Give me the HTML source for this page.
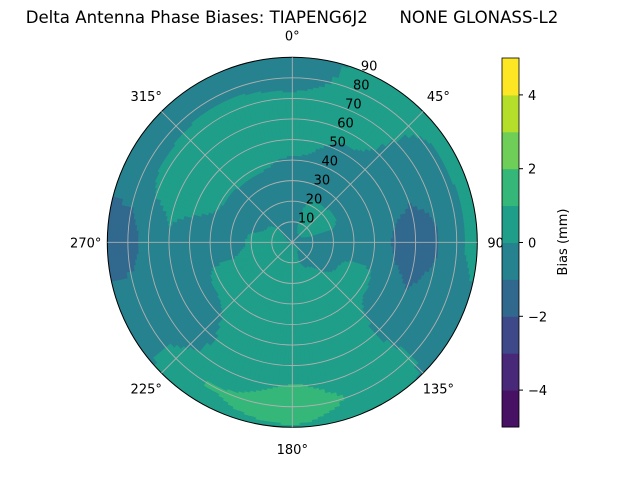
<!DOCTYPE html>
<html><head><meta charset="utf-8"><style>
body{margin:0;background:#fff;}
svg{display:block;font-family:"DejaVu Sans","Liberation Sans",sans-serif;}
</style></head><body>
<svg id="chart" width="640" height="480" viewBox="0 0 640 480">
<text x="292" y="23" font-size="16.6" text-anchor="middle" style="white-space:pre">Delta Antenna Phase Biases: TIAPENG6J2      NONE GLONASS-L2</text>
<g id="cells"></g>
<g id="grid"></g>
<g id="labels" font-size="13"></g>
<g id="cbar" font-size="13"></g>
</svg>
<script>
const azimuths=[0,30,60,90,120,150,180,210,240,270,300,330];
const zeniths=[0,10,20,30,40,50,60,70,80,90];
const biasAz0=[-0.3,-0.5,-0.5,-0.5,-0.1,0.5,0.5,0.2,-0.4,-0.5];
const biasAz30=[-0.3,0.3,0.2,-0.5,-0.5,-0.2,0.3,0.5,0.5,0.3];
const biasAz60=[-0.3,0.3,0.3,-0.5,-0.5,-0.5,-0.7,-0.5,-0.2,0.4];
const biasAz90=[-0.3,-0.5,-0.5,-0.5,-0.5,-1.1,-1.5,-1.1,-0.2,0.3];
const biasAz120=[0.1,-0.4,-0.3,0.3,0.2,-0.6,-0.9,-0.5,-0.5,-0.5];
const biasAz150=[0.2,-0.2,0.3,0.5,0.5,0.5,0.5,0.4,0.7,0.3];
const biasAz180=[0.3,0.5,0.5,0.5,0.5,0.5,0.5,1.05,1.6,0.9];
const biasAz210=[0.3,0.5,0.5,0.5,0.5,0.3,0.1,0.2,1.05,0.8];
const biasAz240=[0.3,0.5,0.5,0.4,0.3,-0.5,-0.5,-0.5,-0.3,-0.4];
const biasAz270=[0.1,0.3,0.2,-0.5,-0.5,-0.5,-0.1,-0.7,-1.3,-1.3];
const biasAz300=[-0.1,0.2,-0.3,-0.5,0.1,0.5,0.5,0.3,-0.5,-0.6];
const biasAz330=[-0.2,-0.3,-0.5,-0.4,0.2,0.5,0.5,0.5,-0.3,-0.5];
const levels=[-5,-4,-3,-2,-1,0,1,2,3,4,5];
const cbarTicks=[-4,-2,0,2,4];
const rTicks=[10,20,30,40,50,60,70,80,90];
const thetaTicks=[0,45,90,135,180,225,270,315];

const grid=[biasAz0,biasAz30,biasAz60,biasAz90,biasAz120,biasAz150,biasAz180,biasAz210,biasAz240,biasAz270,biasAz300,biasAz330];
const colors=["#471164","#482878","#3e4989","#31688e","#26828e","#1f9e89","#35b779","#6ece58","#b5de2b","#fde725"];
const NS="http://www.w3.org/2000/svg";
const cx=292.3,cy=242.3,R=185;
function rScale(z){return z/90*R;}
function pt(az,z){const a=az*Math.PI/180,r=rScale(z);return [cx+r*Math.sin(a),cy-r*Math.cos(a)];}
function val(az,z){
  const n=azimuths.length,step=360/n;
  let fa=((az%360)+360)%360/step;const i0=Math.floor(fa)%n,i1=(i0+1)%n,ta=fa-Math.floor(fa);
  let fz=z/10;let j0=Math.min(Math.floor(fz),zeniths.length-2);const tz=fz-j0;
  const a=grid[i0][j0]*(1-tz)+grid[i0][j0+1]*tz;
  const b=grid[i1][j0]*(1-tz)+grid[i1][j0+1]*tz;
  const s=ta*ta*(3-2*ta);
  return a*(1-s)+b*s;
}
function band(v){for(let k=0;k<levels.length-1;k++){if(v<levels[k+1])return k;}return levels.length-2;}
const cells=document.getElementById('cells');
const bg=document.createElementNS(NS,'circle');
bg.setAttribute('cx',cx);bg.setAttribute('cy',cy);bg.setAttribute('r',R);bg.setAttribute('fill',colors[4]);


cells.appendChild(bg);
const dA=2,dZ=1;
for(let az=0;az<360;az+=dA){
  let z=0;
  while(z<90){
    const b=band(val(az+dA/2,z+dZ/2));let z2=z+dZ;
    while(z2<90&&band(val(az+dA/2,z2+dZ/2))===b)z2+=dZ;
    if(b!==4){
      const p1=pt(az-0.3,z),p2=pt(az+dA+0.3,z),p3=pt(az+dA+0.3,z2),p4=pt(az-0.3,z2);
      const p=document.createElementNS(NS,'path');
      p.setAttribute('d',`M${p1}L${p2}L${p3}L${p4}Z`);
      p.setAttribute('fill',colors[b]);
      
      
      cells.appendChild(p);
    }
    z=z2;
  }
}
const g=document.getElementById('grid');
rTicks.forEach(t=>{const c=document.createElementNS(NS,'circle');c.setAttribute('cx',cx);c.setAttribute('cy',cy);c.setAttribute('r',rScale(t));c.setAttribute('fill','none');c.setAttribute('stroke',t===90?'#000':'#b0b0b0');c.setAttribute('stroke-width',t===90?1:0.9);


g.appendChild(c);});
thetaTicks.forEach(t=>{const [x,y]=pt(t,90);const l=document.createElementNS(NS,'line');l.setAttribute('x1',cx);l.setAttribute('y1',cy);l.setAttribute('x2',x);l.setAttribute('y2',y);l.setAttribute('stroke','#b0b0b0');l.setAttribute('stroke-width',0.9);


g.appendChild(l);});
const L=document.getElementById('labels');
thetaTicks.forEach(t=>{const [x,y]=pt(t,90+10.5);const s=document.createElementNS(NS,'text');s.setAttribute('x',x);s.setAttribute('y',y+5);s.setAttribute('text-anchor','middle');s.textContent=t+'°';


L.appendChild(s);});
rTicks.forEach(t=>{const [x,y]=pt(22.5,t);const s=document.createElementNS(NS,'text');s.setAttribute('x',x+6);s.setAttribute('y',y-1);s.setAttribute('text-anchor','middle');s.textContent=t;


L.appendChild(s);});
const C=document.getElementById('cbar');
const cbTop=58,cbBot=427,cbX=502,cbW=17;
function cy2(v){return cbBot-(v-levels[0])/(levels[levels.length-1]-levels[0])*(cbBot-cbTop);}
for(let k=0;k<levels.length-1;k++){const r=document.createElementNS(NS,'rect');r.setAttribute('x',cbX);r.setAttribute('y',cy2(levels[k+1]));r.setAttribute('width',cbW);r.setAttribute('height',cy2(levels[k])-cy2(levels[k+1])+0.5);r.setAttribute('fill',colors[k]);


C.appendChild(r);}
const fr=document.createElementNS(NS,'rect');fr.setAttribute('x',cbX);fr.setAttribute('y',cbTop);fr.setAttribute('width',cbW);fr.setAttribute('height',cbBot-cbTop);fr.setAttribute('fill','none');fr.setAttribute('stroke','#000');fr.setAttribute('stroke-width',0.8);


C.appendChild(fr);
cbarTicks.forEach(t=>{const y=cy2(t);const l=document.createElementNS(NS,'line');l.setAttribute('x1',cbX+cbW);l.setAttribute('x2',cbX+cbW+4);l.setAttribute('y1',y);l.setAttribute('y2',y);l.setAttribute('stroke','#000');


C.appendChild(l);
const s=document.createElementNS(NS,'text');s.setAttribute('x',cbX+cbW+9);s.setAttribute('y',y+5);s.textContent=t<0?'\u2212'+(-t):t;


C.appendChild(s);});
const ct=document.createElementNS(NS,'text');ct.setAttribute('transform','translate(567,242) rotate(-90)');ct.setAttribute('text-anchor','middle');ct.textContent='Bias (mm)';


C.appendChild(ct);
</script>
</body></html>
